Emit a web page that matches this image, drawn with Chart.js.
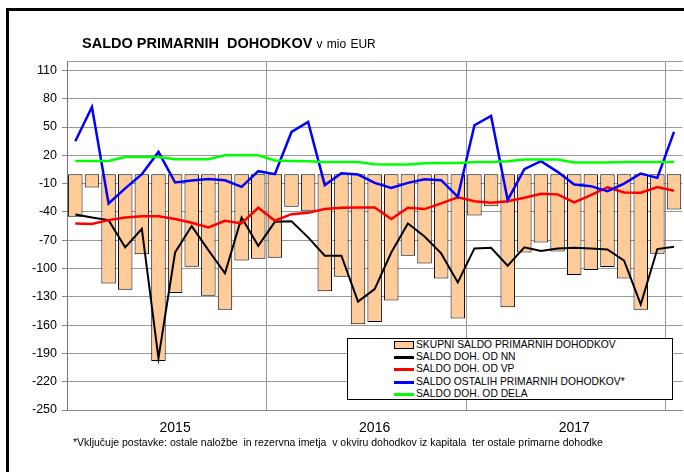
<!DOCTYPE html>
<html>
<head>
<meta charset="utf-8">
<script src="https://cdn.jsdelivr.net/npm/chart.js@4.4.0/dist/chart.umd.min.js"></script>
<style>
  body { margin: 0; background: #fff; font-family: "Liberation Sans", Arial, sans-serif; }
  #wrap { position: relative; width: 684px; height: 472px; overflow: hidden; }
  #frame { position: absolute; left: 6px; top: 8px; width: 800px; height: 600px; border-left: 3px solid #000; border-top: 3px solid #000; }
  #chart { position: absolute; left: 0; top: 0; }
  #title { position: absolute; left: 82px; top: 35px; font-weight: bold; font-size: 14.5px; white-space: pre; color: #000; }
  #title span { font-weight: normal; font-size: 12px; word-spacing: 1px; }
  #legend { position: absolute; left: 347px; top: 338px; width: 324px; height: 60px; border: 1px solid #000; background: #fff; }
  .row { position: absolute; left: 0; height: 12px; width: 100%; }
  .sw { position: absolute; left: 46px; width: 20px; }
  .lbl { position: absolute; left: 68px; top: 0; font-size: 10.3px; line-height: 12px; white-space: nowrap; color: #000; }
  #note { position: absolute; left: 73px; top: 436px; font-size: 10.5px; white-space: pre; color: #000; }
</style>
</head>
<body>
<div id="wrap">
  <div id="frame"></div>
  <canvas id="chart" width="684" height="472"></canvas>
  <div id="title">SALDO PRIMARNIH  DOHODKOV <span>v mio EUR</span></div>
  <div id="legend"></div>
  <div id="note">*Vključuje postavke: ostale naložbe  in rezervna imetja  v okviru dohodkov iz kapitala  ter ostale primarne dohodke</div>
</div>
<script>
// mesečni podatki jan 2015 - jan 2018
const meseci = [
  "1/15", "2/15", "3/15", "4/15", "5/15", "6/15", "7/15", "8/15", "9/15", "10/15", "11/15", "12/15",
  "1/16", "2/16", "3/16", "4/16", "5/16", "6/16", "7/16", "8/16", "9/16", "10/16", "11/16", "12/16",
  "1/17", "2/17", "3/17", "4/17", "5/17", "6/17", "7/17", "8/17", "9/17", "10/17", "11/17", "12/17",
  "1/18"
];
const letnice = { 6: "2015", 18: "2016", 30: "2017" };

const skupni = [
  -45, -14, -116, -122.5, -85, -198, -126, -98, -129, -143.7, -91.4, -89.6,
  -88.6, -34.6, -38.8, -124, -108.7, -159, -156.7, -134, -86.5, -94.6, -110.5, -153,
  -43.8, -33.9, -141, -83, -72.4, -82, -107, -101.6, -98.5, -110.5, -143.7, -84.4,
  -37.4
];
const dohNN = [
  -42.7, -45.9, -48.7, -77.6, -57.9, -195, -83, -55, -80.5, -105, -46, -76,
  -50.5, -50, -67, -86.5, -86.5, -135, -121.8, -83, -52.3, -66, -84, -114.7,
  -78.7, -78, -97, -77.6, -81.5, -78.7, -78, -78.7, -79.8, -91.7, -138, -79.4,
  -77
];
const dohVP = [
  -52.2, -52.9, -48.7, -45.9, -44.5, -44.5, -47.6, -51.5, -56.5, -49.4, -52.2, -35.6,
  -49.4, -42.4, -41, -37, -35.6, -35.3, -35.3, -47.6, -35.6, -37, -31, -24.5,
  -28.6, -30.3, -28.6, -25, -20.8, -21.4, -30, -22.2, -14, -19.4, -19.7, -13.7,
  -17.6
];
const ostali = [
  35, 71.3, -31, -15, 0, 23.6, -8.8, -6.7, -5, -6.4, -13.4, 3.2,
  0, 44.8, 55.4, -11.6, 1, -0.4, -9.2, -14.5, -9.2, -5.3, -6.4, -24,
  51.9, 61.8, -27.5, 5.3, 13.8, 2.5, -11, -12.7, -18, -9.9, 0.7, -3.9,
  44.8
];
const dela = [
  14, 14, 14, 18.3, 18.3, 18.3, 15.9, 15.9, 15.9, 20.1, 20.1, 20.1,
  14.5, 14, 13.7, 13, 13, 13, 10.6, 10.2, 10.2, 11.6, 11.9, 11.9,
  13, 13, 13.7, 15.5, 15.5, 15.5, 12.3, 12.3, 12.3, 13, 13, 13,
  13
];
const yTicks = [-250, -220, -190, -160, -130, -100, -70, -40, -10, 20, 50, 80, 110];

const font = "'Liberation Sans', Arial, sans-serif";

function crta(label, data, color, width, order) {
  return {
    type: "line",
    label: label,
    data: data,
    borderColor: color,
    backgroundColor: color,
    borderWidth: width,
    pointRadius: 0,
    tension: 0,
    fill: false,
    order: order,
  };
}

const chart = new Chart(document.getElementById("chart"), {
  data: {
    labels: meseci,
    datasets: [
      {
        type: "bar",
        label: "SKUPNI SALDO PRIMARNIH DOHODKOV",
        data: skupni,
        backgroundColor: "#FFCC99",
        borderColor: "#000",
        borderWidth: 1,
        borderSkipped: false,
        barPercentage: 0.87,
        categoryPercentage: 1,
        order: 5,
      },
      crta("SALDO DOH. OD NN", dohNN, "#000000", 2, 4),
      crta("SALDO DOH. OD VP", dohVP, "#FF0000", 2.5, 3),
      crta("SALDO OSTALIH PRIMARNIH DOHODKOV*", ostali, "#0000FF", 2.5, 2),
      crta("SALDO DOH. OD DELA", dela, "#00FF00", 2.5, 1),
    ],
  },
  options: {
    responsive: false,
    animation: false,
    layout: { padding: { left: 0, top: 61, right: 0, bottom: 32 } },
    plugins: { legend: { display: false }, tooltip: { enabled: false } },
    scales: {
      x: {
        type: "category",
        offset: true,
        grid: {
          offset: true,
          drawTicks: false,
          color: (ctx) => (ctx.index % 12 === 0 ? "#999" : "transparent"),
        },
        border: { display: true, color: "#888" },
        ticks: {
          autoSkip: false,
          maxRotation: 0,
          padding: 10,
          color: "#000",
          font: { family: font, size: 14 },
          callback: (v, i) => letnice[i] || "",
        },
        afterFit: (s) => { s.height = 30; },
      },
      y: {
        min: -250,
        max: 120,
        afterBuildTicks: (s) => {
          s.ticks = yTicks.concat([120]).map((v) => ({ value: v }));
        },
        grid: {
          color: "#9a9a9a",
          tickLength: 5,
          tickColor: (ctx) => (ctx.tick && ctx.tick.value === 120 ? "transparent" : "#888"),
        },
        border: { display: true, color: "#777" },
        ticks: {
          padding: 5,
          color: "#000",
          font: { family: font, size: 12.5 },
          callback: (v) => (v === 120 ? "" : String(v)),
        },
        afterFit: (s) => { s.width = 67; },
      },
    },
  },
});

// legenda iz podatkov grafa
const legend = document.getElementById("legend");
chart.data.datasets.forEach((ds, i) => {
  const row = document.createElement("div");
  row.className = "row";
  row.style.top = (i * 12.2) + "px";
  const sw = document.createElement("div");
  sw.className = "sw";
  if (ds.type === "bar") {
    sw.style.top = "2px";
    sw.style.height = "6px";
    sw.style.background = ds.backgroundColor;
    sw.style.border = "1px solid #000";
    sw.style.width = "18px";
  } else {
    sw.style.top = "5px";
    sw.style.height = "3px";
    sw.style.background = ds.borderColor;
  }
  const lbl = document.createElement("div");
  lbl.className = "lbl";
  lbl.textContent = ds.label;
  row.appendChild(sw);
  row.appendChild(lbl);
  legend.appendChild(row);
});
</script>
</body>
</html>
